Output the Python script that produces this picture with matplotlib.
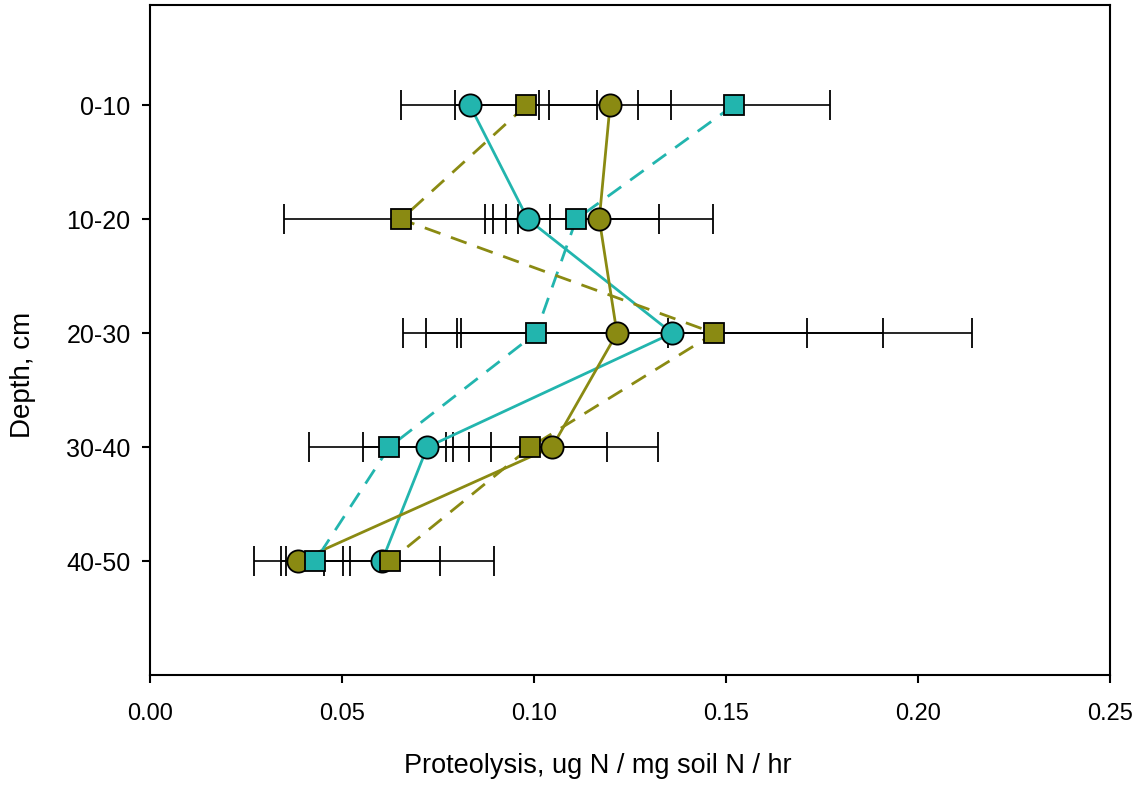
import numpy as np
import matplotlib
matplotlib.use('Agg')
from matplotlib import pyplot as plt

plt.rcParams['font.family'] = ['Liberation Sans', 'DejaVu Sans']

depths = ["0-10", "10-20", "20-30", "30-40", "40-50"]

# cyan circles, solid line
cyan_circle = [0.0833, 0.0984, 0.1360, 0.0722, 0.0604]
cyan_circle_err = [0.0180, 0.0057, 0.0550, 0.0167, 0.0150]
# cyan squares, dashed line
cyan_square = [0.1520, 0.1110, 0.1005, 0.0623, 0.0430]
cyan_square_err = [0.0250, 0.0216, 0.0345, 0.0208, 0.0090]
# olive circles, solid line
olive_circle = [0.1198, 0.1170, 0.1216, 0.1047, 0.0386]
olive_circle_err = [0.0160, 0.0297, 0.0496, 0.0276, 0.0116]
# olive squares, dashed line
olive_square = [0.0980, 0.0654, 0.1470, 0.0990, 0.0625]
olive_square_err = [0.0185, 0.0304, 0.0670, 0.0200, 0.0270]

cyan = '#22B5AE'
olive = '#8A8A12'

y = np.arange(1, len(depths) + 1)

fig = plt.figure(figsize=(11.33, 7.87), dpi=100)
ax = fig.add_axes([0.1324, 0.1423, 0.8473, 0.8513])

series = [
    (cyan_circle, cyan_circle_err, cyan, 'o', '-', 16),
    (olive_circle, olive_circle_err, olive, 'o', '-', 16),
    (cyan_square, cyan_square_err, cyan, 's', '--', 15),
    (olive_square, olive_square_err, olive, 's', '--', 15),
]

# error bars first
for vals, err, col, mk, ls, ms in series:
    ax.errorbar(vals, y, xerr=err, fmt='none', ecolor='black',
                elinewidth=1.2, capsize=11, capthick=1.3, zorder=1)

# lines
for vals, err, col, mk, ls, ms in series:
    if ls == '--':
        ax.plot(vals, y, color=col, lw=2.0, ls=(0, (6, 4)), zorder=2)
    else:
        ax.plot(vals, y, color=col, lw=2.0, ls='-', zorder=2)

# markers
for vals, err, col, mk, ls, ms in series:
    ax.plot(vals, y, ls='none', marker=mk, markersize=ms,
            markerfacecolor=col, markeredgecolor='black',
            markeredgewidth=1.3, zorder=3)

ax.set_xlim(0, 0.25)
ax.set_ylim(6.0, 0.12)
ax.set_xticks(np.arange(0, 0.251, 0.05))
ax.set_xticklabels([f"{v:.2f}" for v in np.arange(0, 0.251, 0.05)],
                   family=['Liberation Sans Narrow', 'Liberation Sans'], fontsize=17)
ax.set_yticks(y)
ax.set_yticklabels(depths, fontsize=18)

ax.tick_params(axis='both', direction='out', length=6, width=1.5)
ax.tick_params(axis='x', pad=14)
ax.tick_params(axis='y', pad=8)
for sp in ax.spines.values():
    sp.set_linewidth(1.5)

ax.set_xlabel("Proteolysis, ug N / mg soil N / hr", fontsize=19.5)
ax.set_ylabel("Depth, cm", fontsize=20)
ax.xaxis.set_label_coords(0.466, -0.117)
ax.yaxis.set_label_coords(-0.119, 0.448)

plt.savefig("out.png", dpi=100)
